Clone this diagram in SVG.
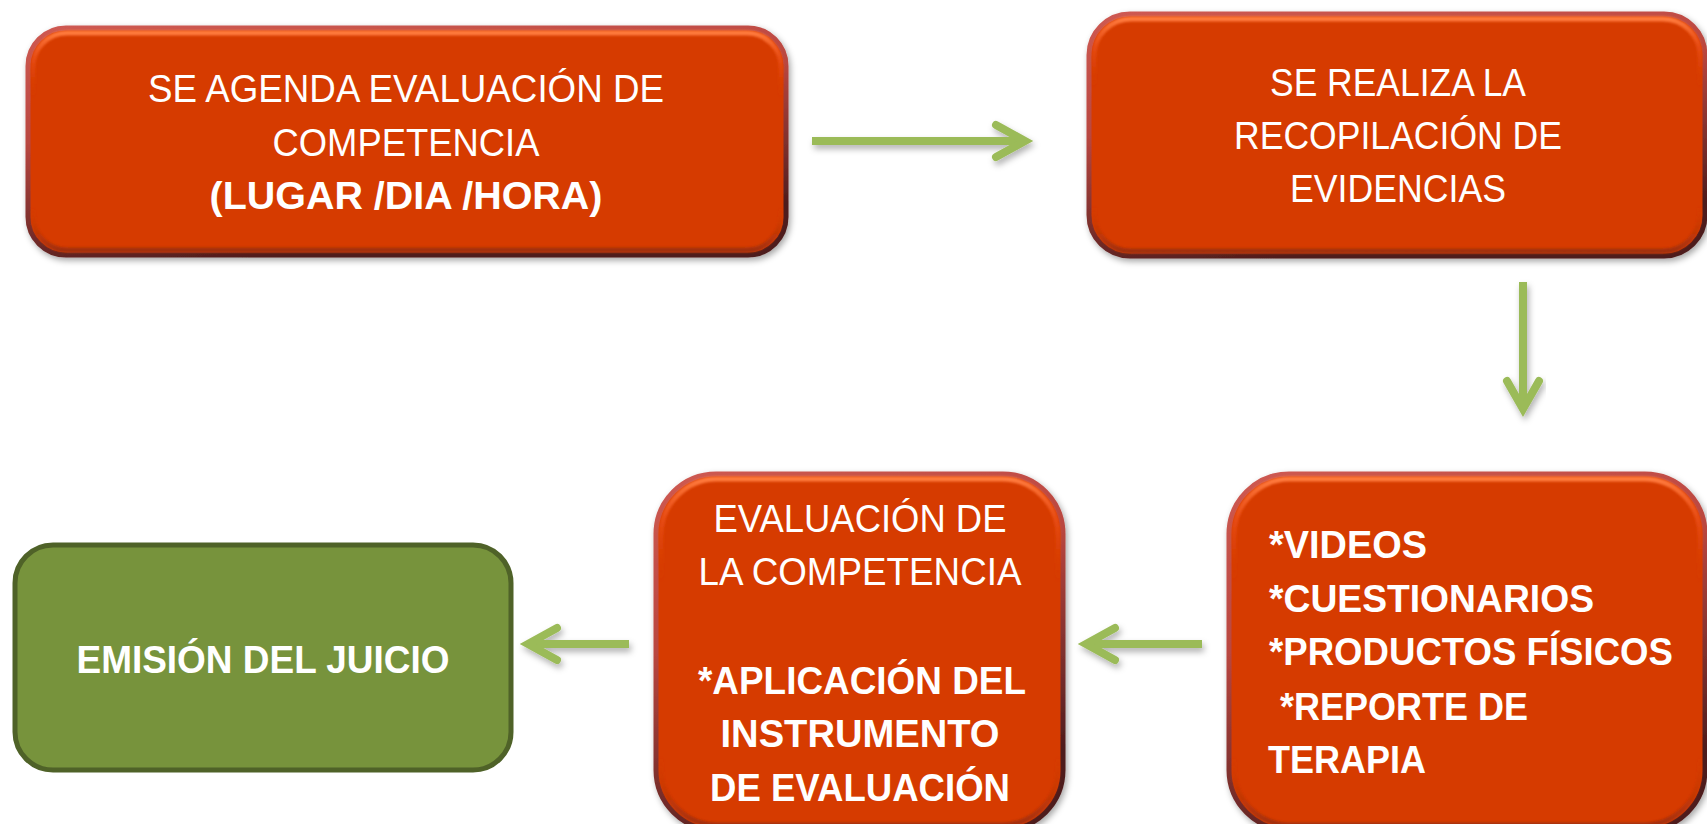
<svg xmlns="http://www.w3.org/2000/svg" width="1707" height="824" viewBox="0 0 1707 824">
<defs>
<style>
.t{font-family:"Liberation Sans",Arial,sans-serif;font-size:38px;fill:#fff}
.b{font-weight:bold}
.m{text-anchor:middle}
.box{fill:#D63A04;stroke:url(#edge);stroke-width:5}
.bev{fill:none;stroke:url(#hl);stroke-width:5}
.conn{fill:none;stroke:#9BBB59;stroke-width:8}
.shaft{stroke-linecap:butt}
.head{stroke-linecap:round;stroke-linejoin:miter}
</style>
<linearGradient id="edge" x1="0" y1="0" x2="0.35" y2="1">
<stop offset="0" stop-color="#CE5A52"/>
<stop offset="0.45" stop-color="#B9463F"/>
<stop offset="0.85" stop-color="#6E2A28"/>
<stop offset="1" stop-color="#4E1C1C"/>
</linearGradient>
<linearGradient id="hl" x1="0" y1="0" x2="0" y2="1">
<stop offset="0" stop-color="#FF7B3E"/>
<stop offset="0.12" stop-color="#F2561E" stop-opacity="0.6"/>
<stop offset="0.3" stop-color="#D63A04" stop-opacity="0"/>
<stop offset="0.8" stop-color="#D63A04" stop-opacity="0"/>
<stop offset="1" stop-color="#A0300E"/>
</linearGradient>
<filter id="sh" x="-10%" y="-10%" width="120%" height="130%">
<feDropShadow dx="2" dy="3" stdDeviation="3" flood-color="#000" flood-opacity="0.35"/>
</filter>
<filter id="ash" x="-20%" y="-50%" width="140%" height="200%">
<feDropShadow dx="2" dy="4" stdDeviation="3" flood-color="#000" flood-opacity="0.3"/>
</filter>
<filter id="soft"><feGaussianBlur stdDeviation="1.2"/></filter>
</defs>
<rect width="1707" height="824" fill="#fff"/>

<g id="connectors">
<g filter="url(#ash)">
<line class="conn shaft" x1="812" y1="141" x2="1021" y2="141"/>
<polyline class="conn head" points="996,125 1025,141 996,157"/>
</g>
<g filter="url(#ash)">
<line class="conn shaft" x1="1523" y1="282" x2="1523" y2="405"/>
<polyline class="conn head" points="1507,381 1523,409 1539,381"/>
</g>
<g filter="url(#ash)">
<line class="conn shaft" x1="1202" y1="644" x2="1090" y2="644"/>
<polyline class="conn head" points="1115,628 1086,644 1115,660"/>
</g>
<g filter="url(#ash)">
<line class="conn shaft" x1="629" y1="644" x2="532" y2="644"/>
<polyline class="conn head" points="557,628 528,644 557,660"/>
</g>
</g>

<g id="node-agenda">
<rect class="box" x="28" y="28" width="758" height="227" rx="38" filter="url(#sh)"/>
<rect class="bev" x="33" y="33" width="748" height="217" rx="34" filter="url(#soft)"/>
<text class="t m" x="406" y="102" textLength="516" lengthAdjust="spacingAndGlyphs">SE AGENDA EVALUACIÓN DE</text>
<text class="t m" x="406" y="156" textLength="267" lengthAdjust="spacingAndGlyphs">COMPETENCIA</text>
<text class="t m b" x="406" y="209" textLength="393" lengthAdjust="spacingAndGlyphs">(LUGAR /DIA /HORA)</text>
</g>

<g id="node-recopilacion">
<rect class="box" x="1089" y="14" width="616" height="242" rx="41" filter="url(#sh)"/>
<rect class="bev" x="1094" y="19" width="606" height="232" rx="37" filter="url(#soft)"/>
<text class="t m" x="1398" y="96" textLength="256" lengthAdjust="spacingAndGlyphs">SE REALIZA LA</text>
<text class="t m" x="1398" y="149" textLength="328" lengthAdjust="spacingAndGlyphs">RECOPILACIÓN DE</text>
<text class="t m" x="1398" y="202" textLength="216" lengthAdjust="spacingAndGlyphs">EVIDENCIAS</text>
</g>

<g id="node-evidencias">
<rect class="box" x="1229" y="474" width="476" height="356" rx="60" filter="url(#sh)"/>
<rect class="bev" x="1234" y="479" width="466" height="346" rx="56" filter="url(#soft)"/>
<text class="t b" x="1269" y="558" textLength="158" lengthAdjust="spacingAndGlyphs">*VIDEOS</text>
<text class="t b" x="1269" y="612" textLength="325" lengthAdjust="spacingAndGlyphs">*CUESTIONARIOS</text>
<text class="t b" x="1269" y="665" textLength="404" lengthAdjust="spacingAndGlyphs">*PRODUCTOS FÍSICOS</text>
<text class="t b" x="1280" y="720" textLength="248" lengthAdjust="spacingAndGlyphs">*REPORTE DE</text>
<text class="t b" x="1268" y="773" textLength="158" lengthAdjust="spacingAndGlyphs">TERAPIA</text>
</g>

<g id="node-evaluacion">
<rect class="box" x="656" y="474" width="407" height="356" rx="60" filter="url(#sh)"/>
<rect class="bev" x="661" y="479" width="397" height="346" rx="56" filter="url(#soft)"/>
<text class="t m" x="860" y="532" textLength="293" lengthAdjust="spacingAndGlyphs">EVALUACIÓN DE</text>
<text class="t m" x="860" y="585" textLength="323" lengthAdjust="spacingAndGlyphs">LA COMPETENCIA</text>
<text class="t m b" x="862" y="694" textLength="328" lengthAdjust="spacingAndGlyphs">*APLICACIÓN DEL</text>
<text class="t m b" x="860" y="747" textLength="279" lengthAdjust="spacingAndGlyphs">INSTRUMENTO</text>
<text class="t m b" x="860" y="801" textLength="300" lengthAdjust="spacingAndGlyphs">DE EVALUACIÓN</text>
</g>

<g id="node-juicio">
<rect x="15" y="545" width="496" height="225" rx="38" fill="#77933C" stroke="#4F6228" stroke-width="5"/>
<text class="t m b" x="263" y="673" textLength="373" lengthAdjust="spacingAndGlyphs">EMISIÓN DEL JUICIO</text>
</g>
</svg>
